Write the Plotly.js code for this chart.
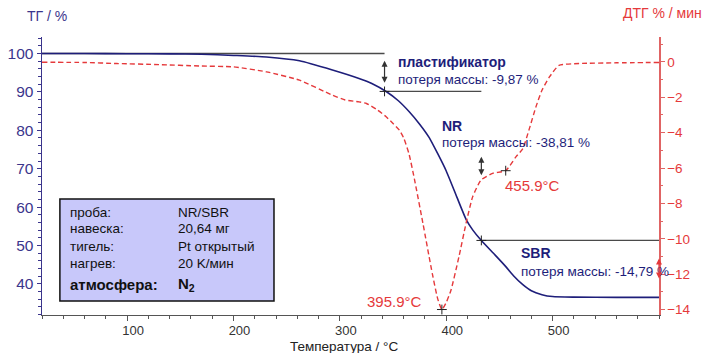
<!DOCTYPE html>
<html>
<head>
<meta charset="utf-8">
<script src="https://cdn.plot.ly/plotly-3.0.1.min.js"></script>
<style>html,body{margin:0;padding:0;background:#fff;}#chart{width:706px;height:353px;}</style>
</head>
<body>
<div id="chart"></div>
<script>
// ---- data ----
const temperatureTG = [20, 60, 100, 140, 170, 200, 231, 262, 293, 318, 330, 343.5, 355, 365, 375, 384, 392, 400, 410, 419, 425, 433, 446, 456, 463, 472, 480, 490, 500, 520, 560, 600];
const massTG = [100, 100, 99.95, 99.9, 99.8, 99.5, 99.1, 98.1, 95.7, 93.5, 92.2, 90.1, 87.7, 84.9, 81.6, 78.1, 73.9, 69.4, 62.6, 56.6, 54.0, 51.3, 47.5, 44.5, 42.2, 39.8, 38.2, 37.2, 36.7, 36.55, 36.5, 36.5];

const temperatureDTG = [20, 60, 90, 130, 168, 200, 231, 262, 293, 305, 318, 325, 335, 343.5, 350, 356, 360, 365, 370, 378, 387, 392, 395.9, 400, 404.5, 412, 418.6, 424.8, 432.7, 443.6, 455.9, 465.5, 472, 478, 484.3, 490, 497, 506, 525, 560, 600];
const rateDTG = [-0.02, -0.03, -0.09, -0.15, -0.23, -0.28, -0.56, -1.03, -1.88, -2.15, -2.26, -2.35, -2.7, -3.1, -3.48, -3.86, -4.3, -5.2, -6.6, -9.1, -12.0, -13.4, -14.0, -13.6, -12.9, -11.0, -9.13, -7.63, -6.68, -6.3, -6.15, -5.37, -4.9, -3.8, -2.54, -1.6, -0.85, -0.19, -0.09, -0.05, -0.03];

const stepTemps = [20, 342, 433, 600];
const stepLevels = [100, 90.13, 51.32, 36.53];
const stepNames = ['пластификатор', 'NR', 'SBR'];
const stepLosses = ['потеря массы: -9,87 %', 'потеря массы: -38,81 %', 'потеря массы: -14,79 %'];

const peakTemps = [395.9, 455.9];
const peakRates = [-14.0, -6.15];
const peakLabels = ['395.9°C', '455.9°C'];

const xTickVals = [100, 200, 300, 400, 500];
const leftTickVals = [40, 50, 60, 70, 80, 90, 100];
const rightTickVals = [0, -2, -4, -6, -8, -10, -12, -14];

const infoLabels = ['проба:', 'навеска:', 'тигель:', 'нагрев:', 'атмосфера:'];
const infoValues = ['NR/SBR', '20,64 мг', 'Pt открытый', '20 K/мин', 'N<sub>2</sub>'];

// ---- styling ----
const FONT = 'Liberation Sans, Arial, sans-serif';
const NAVY = '#1e1e7a';
const AXNAVY = '#3b358c';
const RED = '#e5393b';

const traces = [
  {x: temperatureDTG, y: rateDTG, yaxis: 'y2', mode: 'lines', line: {color: RED, width: 1.4, dash: '5px,3px', shape: 'spline', smoothing: 0.5}, hoverinfo: 'skip'},
  {x: temperatureTG, y: massTG, mode: 'lines', line: {color: NAVY, width: 1.6, shape: 'spline', smoothing: 0.5}, hoverinfo: 'skip'},
  {x: stepTemps.slice(1, 3), y: stepLevels.slice(1, 3), mode: 'markers', marker: {symbol: 'cross-thin', size: 7, line: {color: '#222', width: 1}}, hoverinfo: 'skip'},
  {x: peakTemps, y: peakRates, yaxis: 'y2', mode: 'markers', marker: {symbol: 'cross-thin', size: 7, line: {color: '#222', width: 1}}, hoverinfo: 'skip'}
];

const shapes = [];
for (let i = 0; i < 3; i++) {
  shapes.push({type: 'line', xref: 'x', yref: 'y', x0: stepTemps[i], x1: stepTemps[i + 1], y0: stepLevels[i], y1: stepLevels[i], line: {color: '#4a4a4a', width: 1.3}, layer: 'below'});
}
// info box
shapes.push({type: 'rect', xref: 'paper', yref: 'paper', x0: 0.029, x1: 0.376, y0: 0.05, y1: 0.417, fillcolor: '#c8c8fa', line: {color: '#111', width: 1.5}});

const annotations = [];
// axis titles
annotations.push({xref: 'paper', yref: 'paper', x: 0.008, y: 1.075, xanchor: 'center', yanchor: 'middle', text: 'ТГ / %', showarrow: false, font: {family: FONT, size: 14, color: AXNAVY}});
annotations.push({xref: 'paper', yref: 'paper', x: 1.005, y: 1.085, xanchor: 'center', yanchor: 'middle', text: 'ДТГ % / мин', showarrow: false, font: {family: FONT, size: 14, color: RED}});
annotations.push({xref: 'paper', yref: 'paper', x: 0.49, y: -0.115, xanchor: 'center', yanchor: 'middle', text: 'Температура / °C', showarrow: false, font: {family: FONT, size: 13.5, color: '#222'}});

// step labels
const namePos = [[353, 97.8], [394.5, 81.1], [468, 48.0]];
const lossPos = [[353, 93.2], [394.5, 76.7], [468, 43.2]];
for (let i = 0; i < 3; i++) {
  annotations.push({xref: 'x', yref: 'y', x: namePos[i][0], y: namePos[i][1], xanchor: 'left', yanchor: 'middle', text: '<b>' + stepNames[i] + '</b>', showarrow: false, font: {family: FONT, size: 14, color: NAVY}});
  annotations.push({xref: 'x', yref: 'y', x: lossPos[i][0], y: lossPos[i][1], xanchor: 'left', yanchor: 'middle', text: stepLosses[i], showarrow: false, font: {family: FONT, size: 13.5, color: NAVY}});
}
// double arrows
const arrowDefs = [[stepTemps[1], 98.1, 92.0, '#333'], [stepTemps[2], 73.1, 67.9, '#333'], [stepTemps[3], 46.6, 41.0, RED]];
arrowDefs.forEach(a => {
  annotations.push({xref: 'x', yref: 'y', axref: 'x', ayref: 'y', x: a[0], y: a[1], ax: a[0], ay: a[2], text: '', showarrow: true, arrowside: 'end+start', arrowhead: 2, startarrowhead: 2, arrowsize: 1, startarrowsize: 1, arrowwidth: 1.2, arrowcolor: a[3], standoff: 0, startstandoff: 0});
});
// peak labels
annotations.push({xref: 'x', yref: 'y2', x: 379.5, y: -13.56, xanchor: 'right', yanchor: 'middle', text: peakLabels[0], showarrow: false, font: {family: FONT, size: 15, color: RED}});
annotations.push({xref: 'x', yref: 'y2', x: 453.6, y: -6.97, xanchor: 'left', yanchor: 'middle', text: peakLabels[1], showarrow: false, font: {family: FONT, size: 15, color: RED}});

// info box text
const rowY = [212, 229, 246, 263, 284];
for (let i = 0; i < infoLabels.length; i++) {
  const bold = i === infoLabels.length - 1;
  const py = (315 - rowY[i]) / 278;
  annotations.push({xref: 'paper', yref: 'paper', x: 0.042, y: py, xanchor: 'left', yanchor: 'middle', text: bold ? '<b>' + infoLabels[i] + '</b>' : infoLabels[i], showarrow: false, font: {family: FONT, size: bold ? 15 : 13.5, color: '#111'}});
  annotations.push({xref: 'paper', yref: 'paper', x: 0.217, y: py, xanchor: 'left', yanchor: 'middle', text: bold ? '<b>' + infoValues[i] + '</b>' : infoValues[i], showarrow: false, font: {family: FONT, size: bold ? 15 : 13.5, color: '#111'}});
}

const layout = {
  width: 706, height: 353,
  margin: {l: 42, r: 47, t: 37, b: 38},
  paper_bgcolor: '#fff', plot_bgcolor: '#fff',
  showlegend: false,
  font: {family: FONT},
  xaxis: {
    range: [20, 600], tickvals: xTickVals, showgrid: false, zeroline: false,
    showline: true, linecolor: '#555', linewidth: 1.2,
    ticks: 'outside', ticklen: 5, tickcolor: '#555', tickwidth: 1,
    minor: {dtick: 20, ticks: 'outside', ticklen: 3, tickcolor: '#555', showgrid: false},
    tickfont: {family: FONT, size: 13, color: '#333'},
    ticklabelshift: 6, ticklabelstandoff: -2
  },
  yaxis: {
    range: [31.9, 104.3], tickvals: leftTickVals, showgrid: false, zeroline: false,
    showline: true, linecolor: AXNAVY, linewidth: 1.5,
    ticks: 'outside', ticklen: 4, tickcolor: AXNAVY,
    minor: {dtick: 2, ticks: 'outside', ticklen: 2.5, tickcolor: AXNAVY, showgrid: false},
    tickfont: {family: FONT, size: 15.5, color: AXNAVY}
  },
  yaxis2: {
    range: [-14.31, 1.41], tickvals: rightTickVals, overlaying: 'y', side: 'right',
    showgrid: false, zeroline: false, showline: true, linecolor: '#e06464', linewidth: 1.5,
    ticks: 'outside', ticklen: 4, tickcolor: '#e06464',
    minor: {dtick: 1, ticks: 'outside', ticklen: 2.5, tickcolor: '#e06464', showgrid: false},
    tickfont: {family: FONT, size: 13.5, color: RED}
  },
  shapes: shapes,
  annotations: annotations
};

Plotly.newPlot('chart', traces, layout, {staticPlot: true, displayModeBar: false});
</script>
</body>
</html>
